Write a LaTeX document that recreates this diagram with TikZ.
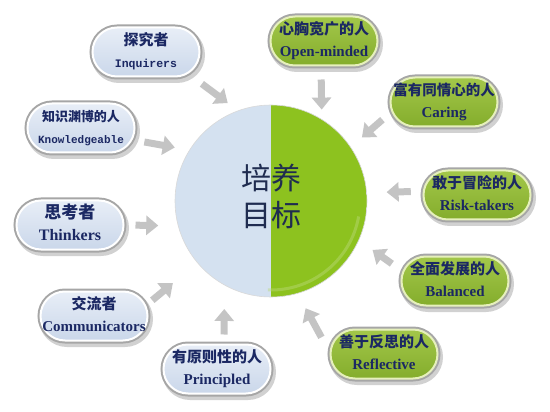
\documentclass[tikz,border=0pt]{standalone}
\usepackage{fontspec}
\setmainfont{Liberation Serif}
\newfontfamily\cjk{Noto Sans CJK SC}
\newfontfamily\mono{Liberation Mono}
\usetikzlibrary{arrows.meta,shapes.misc}

\definecolor{navy}{HTML}{1B2863}
\definecolor{rimgray}{HTML}{A6A6A6}
\definecolor{arrowgray}{HTML}{C4C4C4}
\definecolor{paleblue}{HTML}{E8EEF7}
\definecolor{midblue}{HTML}{CAD7EA}
\definecolor{lightolive}{HTML}{A3C74A}
\definecolor{olive}{HTML}{84AD2C}
\definecolor{palegreen}{HTML}{E6F0BC}
\definecolor{goalblue}{HTML}{D4E1F0}
\definecolor{goalgreen}{HTML}{8DC21F}
\definecolor{goaltext}{HTML}{1F2C50}

\newcommand\twolines[2]{\makebox[0pt]{\begin{tabular}{@{}c@{}}#1\\#2\end{tabular}}}

\begin{document}
\begin{tikzpicture}[x=1pt,y=-1pt]
\useasboundingbox (0,0) rectangle (550,412);

\tikzstyle{pill}=[rounded rectangle, minimum width=107pt, minimum height=49pt,
  inner sep=0pt, outer sep=0pt,
  preaction={draw=black, opacity=.18, line width=7pt, transform canvas={xshift=2pt,yshift=-3pt}},
  preaction={draw=rimgray, line width=6pt},
  line width=2pt, text=navy, font=\fontsize{15}{22}\selectfont\bfseries]
\tikzstyle{bluepill}=[pill, draw=white, top color=paleblue, bottom color=midblue]
\tikzstyle{greenpill}=[pill, draw=palegreen, top color=lightolive, bottom color=olive]
\tikzstyle{goal}=[circle, minimum size=192pt, inner sep=0pt, outer sep=0pt,
  fill=goalblue, draw=black!15, line width=.6pt, text=goaltext,
  font=\cjk\fontsize{30}{37}\selectfont,
  path picture={
    \fill[goalgreen] (path picture bounding box.north) rectangle (path picture bounding box.south east);
    \draw[goalgreen!60!white, line width=3pt, opacity=.45]
      ([shift={(-92:89pt)}]path picture bounding box.center) arc[start angle=-92, end angle=-10, radius=89pt];
  }]
\tikzstyle{arrow}=[draw=arrowgray, line width=7pt, -{Triangle[width=19pt,length=12pt]}]

% points
\path (271,201) node[goal] (Goal) {\twolines{培养}{目标}};

\path (146,52)  node[bluepill] (Inquirers) {\twolines{\cjk 探究者}{\mono\fontsize{11.5}{22}\selectfont Inquirers}};
\path (81,128)  node[bluepill] (Knowledgeable) {\twolines{\cjk\fontsize{13}{22}\selectfont 知识渊博的人}{\mono\fontsize{11}{22}\selectfont Knowledgeable}};
\path (70,225)  node[bluepill] (Thinkers) {\twolines{\cjk\fontsize{17}{22}\selectfont 思考者}{\fontsize{16}{22}\selectfont Thinkers}};
\path (94,316)  node[bluepill] (Communicators) {\twolines{\cjk 交流者}{Communicators}};
\path (217,369) node[bluepill] (Principled) {\twolines{\cjk 有原则性的人}{Principled}};

\path (324,41)  node[greenpill] (OpenMinded) {\twolines{\cjk 心胸宽广的人}{Open-minded}};
\path (444,102) node[greenpill] (Caring) {\twolines{\cjk\fontsize{14.5}{22}\selectfont 富有同情心的人}{Caring}};
\path (477,195) node[greenpill] (RiskTakers) {\twolines{\cjk 敢于冒险的人}{Risk-takers}};
\path (455,281) node[greenpill] (Balanced) {\twolines{\cjk 全面发展的人}{Balanced}};
\path (384,354) node[greenpill] (Reflective) {\twolines{\cjk 善于反思的人}{Reflective}};

% edges
\draw[arrow, shorten <=18pt, shorten >=13pt] (Inquirers.-27) -- (Goal.110);
\draw[arrow, shorten <=13pt, shorten >=15pt] (Knowledgeable.-13) -- (Goal.148);
\draw[arrow, shorten <=12pt, shorten >=20pt] (Thinkers.east) -- (Goal.-165);
\draw[arrow, shorten <=9pt, shorten >=32pt] (Communicators.11) -- (Goal.-140);
\draw[arrow, shorten <=10pt, shorten >=24pt] (Principled.74) -- (Goal.-119);
\draw[arrow, shorten <=19pt, shorten >=17pt] (Reflective.180) -- (Goal.-74);
\draw[arrow, shorten <=14pt, shorten >=17pt] (Balanced.170) -- (Goal.-24);
\draw[arrow, shorten <=13pt, shorten >=20pt] (RiskTakers.176) -- (Goal.5);
\draw[arrow, shorten <=13pt, shorten >=15pt] (Caring.-170) -- (Goal.34);
\draw[arrow, shorten <=14pt, shorten >=10pt] (OpenMinded.-97) -- (Goal.58);

\end{tikzpicture}
\end{document}
